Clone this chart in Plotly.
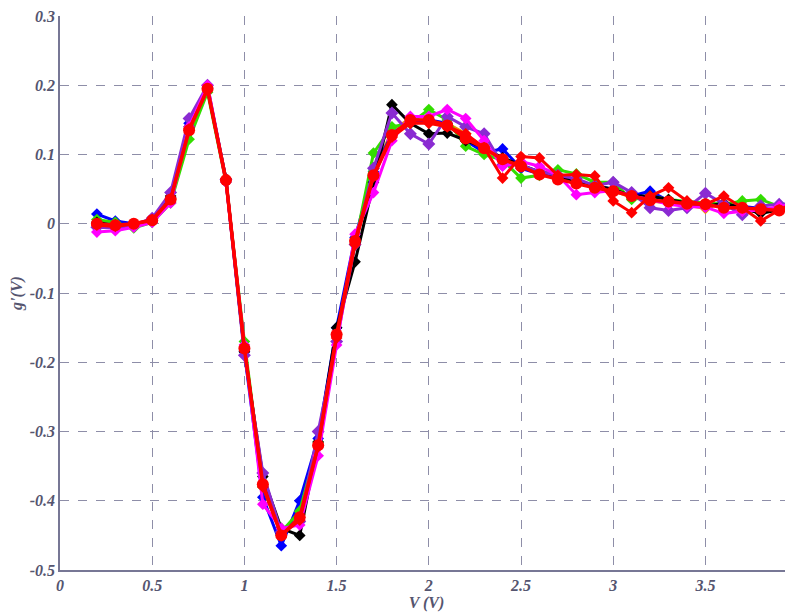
import plotly.graph_objects as go

x_vals = [0.2, 0.3, 0.4, 0.5, 0.6, 0.7, 0.8, 0.9, 1.0, 1.1, 1.2, 1.3, 1.4, 1.5, 1.6, 1.7, 1.8, 1.9, 2.0,
          2.1, 2.2, 2.3, 2.4, 2.5, 2.6, 2.7, 2.8, 2.9, 3.0, 3.1, 3.2, 3.3, 3.4, 3.5, 3.6, 3.7, 3.8, 3.9, 4.0]

orange = [0.000, -0.003, -0.002, 0.004, 0.036, 0.138, 0.193, 0.064, -0.178, -0.378, -0.448, -0.420, -0.318,
          -0.158, -0.028, 0.072, 0.135, 0.152, 0.148, 0.145, 0.130, 0.105, 0.095, 0.085, 0.073, 0.066, 0.060,
          0.053, 0.048, 0.038, 0.033, 0.030, 0.027, 0.022, 0.030, 0.024, 0.022, 0.020, 0.022]
blue = [0.014, 0.004, 0.000, 0.003, 0.038, 0.145, 0.197, 0.062, -0.185, -0.395, -0.465, -0.400, -0.310,
        -0.150, -0.020, 0.075, 0.130, 0.148, 0.150, 0.145, 0.120, 0.103, 0.108, 0.080, 0.072, 0.068, 0.062,
        0.055, 0.050, 0.040, 0.047, 0.033, 0.030, 0.025, 0.028, 0.025, 0.022, 0.022, 0.025]
green = [0.006, 0.002, -0.006, 0.002, 0.030, 0.122, 0.190, 0.060, -0.170, -0.380, -0.445, -0.415, -0.315,
         -0.160, -0.030, 0.102, 0.140, 0.145, 0.165, 0.150, 0.112, 0.100, 0.092, 0.066, 0.070, 0.078, 0.072,
         0.060, 0.060, 0.035, 0.040, 0.035, 0.032, 0.030, 0.028, 0.033, 0.035, 0.025, 0.015]
black = [0.002, -0.002, -0.003, 0.006, 0.040, 0.140, 0.195, 0.065, -0.185, -0.365, -0.440, -0.450, -0.315,
         -0.150, -0.055, 0.060, 0.172, 0.145, 0.130, 0.131, 0.120, 0.110, 0.095, 0.085, 0.075, 0.070, 0.060,
         0.055, 0.050, 0.040, 0.040, 0.035, 0.030, 0.025, 0.030, 0.022, 0.015, 0.020, 0.020]
purple = [-0.005, -0.006, -0.002, 0.008, 0.045, 0.152, 0.200, 0.064, -0.190, -0.360, -0.445, -0.430, -0.300,
          -0.170, -0.030, 0.080, 0.160, 0.130, 0.115, 0.155, 0.140, 0.130, 0.085, 0.085, 0.075, 0.070, 0.065,
          0.055, 0.060, 0.045, 0.023, 0.019, 0.023, 0.044, 0.028, 0.013, 0.026, 0.028, 0.030]
magenta = [-0.012, -0.010, -0.005, 0.002, 0.030, 0.140, 0.200, 0.060, -0.175, -0.405, -0.440, -0.435, -0.335,
           -0.175, -0.015, 0.045, 0.120, 0.155, 0.155, 0.165, 0.152, 0.120, 0.083, 0.090, 0.083, 0.070, 0.042,
           0.045, 0.048, 0.040, 0.035, 0.028, 0.025, 0.024, 0.015, 0.018, 0.020, 0.025, 0.030]
red_diamond = [-0.002, -0.004, 0.000, 0.006, 0.036, 0.137, 0.193, 0.062, -0.178, -0.380, -0.450, -0.428, -0.322,
               -0.165, -0.030, 0.068, 0.125, 0.145, 0.145, 0.140, 0.130, 0.110, 0.066, 0.097, 0.095, 0.070, 0.071,
               0.069, 0.033, 0.016, 0.040, 0.052, 0.033, 0.028, 0.040, 0.023, 0.004, 0.020, 0.033]
red_mean = [0.000, -0.002, 0.000, 0.005, 0.035, 0.135, 0.195, 0.063, -0.180, -0.376, -0.450, -0.424, -0.320,
            -0.160, -0.025, 0.070, 0.128, 0.150, 0.150, 0.142, 0.123, 0.109, 0.093, 0.083, 0.071, 0.064, 0.058,
            0.052, 0.047, 0.040, 0.034, 0.032, 0.029, 0.028, 0.023, 0.023, 0.021, 0.019, 0.020]

x_ticks = [0, 0.5, 1, 1.5, 2, 2.5, 3, 3.5]
y_ticks = [-0.5, -0.4, -0.3, -0.2, -0.1, 0, 0.1, 0.2, 0.3]

series = [
    (orange, "#F08C00", "diamond", 9, 3),
    (blue, "#0000FF", "diamond", 9, 3),
    (green, "#33DD00", "diamond", 9, 3),
    (black, "#000000", "diamond", 9, 3),
    (purple, "#8A2BD2", "diamond", 10, 3),
    (magenta, "#FF00FF", "diamond", 9, 3),
    (red_diamond, "#FF0000", "diamond", 9, 3),
    (red_mean, "#FF0000", "circle", 12, 3.5),
]

fig = go.Figure()
for ys, col, sym, ms, lw in series:
    fig.add_trace(go.Scatter(x=x_vals, y=ys, mode="lines+markers",
                             line=dict(color=col, width=lw),
                             marker=dict(color=col, symbol=sym, size=ms),
                             showlegend=False))

axis_font = dict(family="Liberation Serif, Times New Roman, serif", size=16,
                 color="#55556f", weight="bold", style="italic")
grid_col = "#8e8ea8"

fig.update_layout(
    width=785, height=605,
    margin=dict(l=52, r=0, t=4, b=43),
    paper_bgcolor="white", plot_bgcolor="white",
    xaxis=dict(range=[0, 3.975], tickvals=x_ticks, ticktext=[f"{v:g}" for v in x_ticks],
               showgrid=True, gridcolor=grid_col, griddash="dash", gridwidth=1,
               zeroline=False, showline=True, linecolor="#777795", linewidth=1.5,
               tickfont=axis_font, ticks="", ticklabeloverflow="allow",
               title=dict(text="V (V)", font=axis_font, standoff=0)),
    yaxis=dict(range=[-0.5, 0.3], tickvals=y_ticks, ticktext=[f"{v:g}" for v in y_ticks],
               showgrid=True, gridcolor=grid_col, griddash="dash", gridwidth=1,
               zeroline=False, showline=True, linecolor="#777795", linewidth=1.5,
               tickfont=axis_font, ticks="", ticklabeloverflow="allow",
               title=dict(text="g'(V)", font=axis_font, standoff=4)),
)

fig.write_html("out.html")
